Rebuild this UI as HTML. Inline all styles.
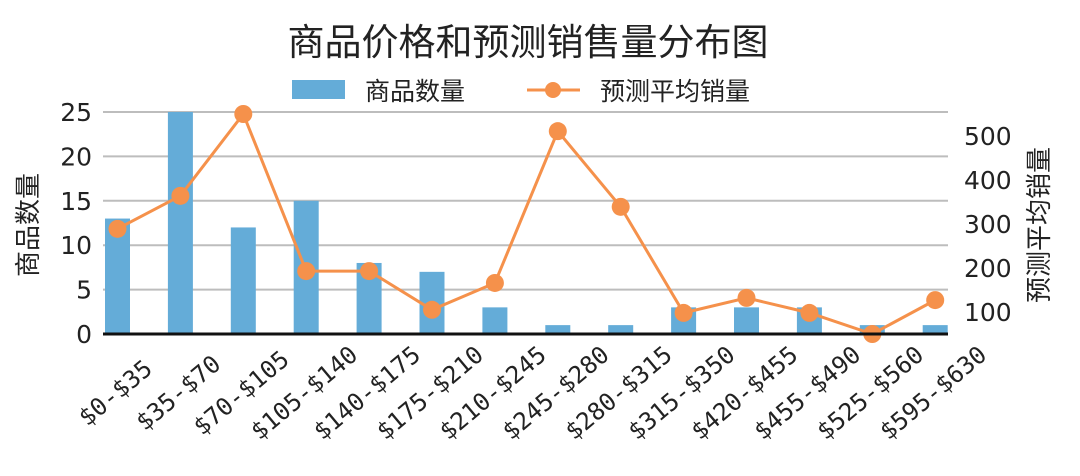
<!DOCTYPE html>
<html><head><meta charset="utf-8">
<style>
html,body{margin:0;padding:0;background:#fff;}
svg text{font-family:"DejaVu Sans","Liberation Sans","Noto Sans CJK SC",sans-serif;fill:#222;}
</style></head>
<body>
<svg id="chart" width="1080" height="471" viewBox="0 0 1080 471" xmlns="http://www.w3.org/2000/svg">
<text x="528" y="55" font-size="37" text-anchor="middle" style="font-family:'Noto Sans CJK SC',sans-serif">商品价格和预测销售量分布图</text>
<g>
<rect x="292" y="80" width="53" height="19" fill="#64acd8"/>
<text x="365" y="100" font-size="25" style="font-family:'Noto Sans CJK SC',sans-serif">商品数量</text>
<line x1="527" y1="90" x2="580" y2="90" stroke="#f5914b" stroke-width="3"/>
<circle cx="553" cy="90" r="8" fill="#f5914b"/>
<text x="600" y="100" font-size="25" style="font-family:'Noto Sans CJK SC',sans-serif">预测平均销量</text>
</g>
<g id="grid"></g><g id="bars"></g><g id="line"></g><g id="axes"></g>
<text transform="translate(37,225) rotate(-90)" font-size="26" text-anchor="middle" style="font-family:'Noto Sans CJK SC',sans-serif">商品数量</text>
<text transform="translate(1048,225) rotate(-90)" font-size="26" text-anchor="middle" style="font-family:'Noto Sans CJK SC',sans-serif">预测平均销量</text>
</svg>
<script>
const categories=["$0-$35","$35-$70","$70-$105","$105-$140","$140-$175","$175-$210","$210-$245","$245-$280","$280-$315","$315-$350","$420-$455","$455-$490","$525-$560","$595-$630"];
const counts=[13,25,12,15,8,7,3,1,1,3,3,3,1,1];
const sales=[289,364,550,193,193,105,166,511,339,98,132,98,50,127];
const leftTicks=[0,5,10,15,20,25];
const rightTicks=[100,200,300,400,500];
const NS="http://www.w3.org/2000/svg";
function mk(t,a,p){const e=document.createElementNS(NS,t);for(const k in a)e.setAttribute(k,a[k]);p.appendChild(e);return e;}
const x0=117.5,step=62.9,bw=25;
const xS=i=>x0+i*step;
const yL=v=>334-v*(222/25);
const yR=v=>356-v*0.44;
const grid=document.getElementById('grid'),bars=document.getElementById('bars'),line=document.getElementById('line'),axes=document.getElementById('axes');
leftTicks.forEach(v=>{
  if(v>0){const g=mk('line',{x1:103,x2:948,y1:yL(v),y2:yL(v),stroke:'#bdbdbd','stroke-width':2},grid);
  
  }
  const t=mk('text',{x:92,y:yL(v)+9,'font-size':25,'text-anchor':'end'},axes);t.textContent=v;
  
  
});
rightTicks.forEach(v=>{
  const t=mk('text',{x:964,y:yR(v)+9,'font-size':25},axes);t.textContent=v;
  
  
});
counts.forEach((c,i)=>{
  const r=mk('rect',{x:xS(i)-bw/2,y:yL(c),width:bw,height:334-yL(c),fill:'#64acd8'},bars);
  
  
});
const pl=mk('polyline',{points:sales.map((s,i)=>xS(i)+','+yR(s)).join(' '),fill:'none',stroke:'#f5914b','stroke-width':3},line);


sales.forEach((s,i)=>{
  const c=mk('circle',{cx:xS(i),cy:yR(s),r:9,fill:'#f5914b'},line);
  
  
});
const ax=mk('line',{x1:103,x2:948,y1:334,y2:334,stroke:'#111','stroke-width':3},axes);


categories.forEach((c,i)=>{
  const cx=xS(i)-2,cy=393;
  const t=mk('text',{x:cx,y:cy+8,'font-size':24,'text-anchor':'middle',transform:`rotate(-40 ${cx} ${cy})`,style:"font-family:'DejaVu Sans Mono','Liberation Mono',monospace"},axes);
  t.textContent=c;
  
  
});
</script>
</body></html>
